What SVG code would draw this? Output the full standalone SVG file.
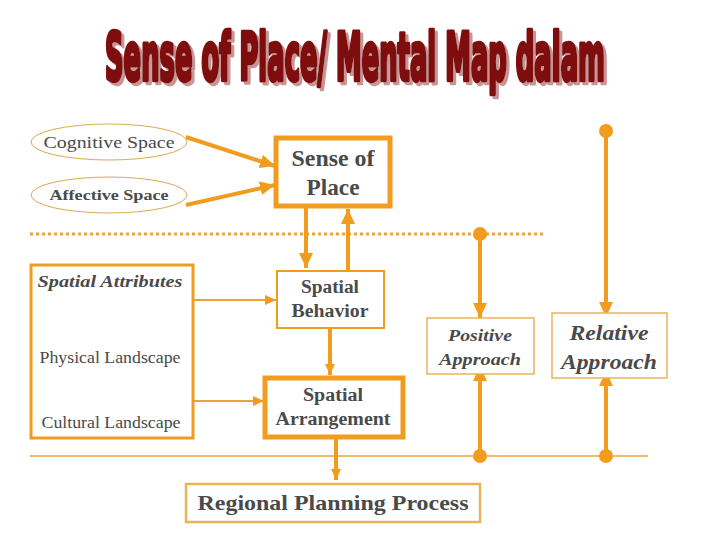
<svg xmlns="http://www.w3.org/2000/svg" width="720" height="540" viewBox="0 0 720 540">
<style>
.t{font-family:"Liberation Serif","DejaVu Serif",serif;fill:#4a4a4a;text-anchor:middle}
.b{font-weight:bold}
.i{font-style:italic}
.thick{stroke:#f29c1f;stroke-width:4;fill:none}
.thin{stroke:#eba43a;stroke-width:2;fill:none}
.box{fill:#fff;stroke:#f29c1f}
.tan{fill:#fff;stroke:#e8b458}
.dot{fill:#f29c1f}
.title{font-family:"Liberation Sans Narrow","DejaVu Sans Condensed","Liberation Sans",sans-serif;font-weight:bold;font-size:44px;text-anchor:middle;fill:#7f0a0a;stroke:#7f0a0a;stroke-width:3;stroke-linejoin:round}
</style>
<defs>
<filter id="shadow" filterUnits="userSpaceOnUse" x="80" y="10" width="560" height="100">
<feDropShadow dx="3" dy="3" stdDeviation="0.6" flood-color="#c89494" flood-opacity="1"/>
</filter>
<marker id="ah" markerUnits="userSpaceOnUse" markerWidth="16" markerHeight="16" viewBox="0 0 16 16" refX="15" refY="8" orient="auto"><path d="M0,1 L15,8 L0,15 z" fill="#f29c1f"/></marker>
<marker id="ahs" markerUnits="userSpaceOnUse" markerWidth="12" markerHeight="12" viewBox="0 0 12 12" refX="11" refY="6" orient="auto"><path d="M0,1 L11,6 L0,11 z" fill="#f29c1f"/></marker>
<marker id="ahr" markerUnits="userSpaceOnUse" markerWidth="16" markerHeight="16" viewBox="0 0 16 16" refX="1" refY="8" orient="auto"><path d="M16,1 L1,8 L16,15 z" fill="#f29c1f"/></marker>
</defs>

<g id="title" filter="url(#shadow)">
<text class="title" transform="translate(355,80) scale(1,1.5)" textLength="500" lengthAdjust="spacingAndGlyphs">Sense of Place/ Mental Map dalam</text>
</g>

<g id="connectors">
<line x1="30" y1="234" x2="543" y2="234" stroke="#eba43a" stroke-width="3" stroke-dasharray="3,3"/>
<line x1="30" y1="456" x2="648" y2="456" stroke="#eba43a" stroke-width="1.5"/>
<line class="thick" x1="186" y1="137" x2="275" y2="166" marker-end="url(#ah)"/>
<line class="thick" x1="186" y1="205" x2="275" y2="185" marker-end="url(#ah)"/>
<line class="thick" x1="306" y1="208" x2="306" y2="268" marker-end="url(#ah)"/>
<line class="thick" x1="348" y1="270" x2="348" y2="209" marker-end="url(#ah)"/>
<line class="thin" x1="193" y1="300" x2="276" y2="300" marker-end="url(#ahs)"/>
<line class="thin" x1="193" y1="401" x2="264" y2="401" marker-end="url(#ahs)"/>
<line class="thick" x1="330" y1="328" x2="330" y2="375" stroke-width="3" marker-end="url(#ahs)"/>
<line class="thick" x1="336" y1="438" x2="336" y2="480" stroke-width="3" marker-end="url(#ahs)"/>
<line class="thick" x1="102" y1="373" x2="102" y2="407" marker-start="url(#ahr)" marker-end="url(#ah)"/>
<line class="thick" x1="480" y1="234" x2="480" y2="318" marker-end="url(#ah)"/>
<line class="thick" x1="480" y1="456" x2="480" y2="366" marker-end="url(#ah)"/>
<line class="thick" x1="606" y1="131" x2="606" y2="317" marker-end="url(#ah)"/>
<line class="thick" x1="606" y1="456" x2="606" y2="371" marker-end="url(#ah)"/>
<circle class="dot" cx="480" cy="234" r="7"/>
<circle class="dot" cx="480" cy="456" r="7"/>
<circle class="dot" cx="606" cy="131" r="7"/>
<circle class="dot" cx="606" cy="456" r="7"/>
</g>

<g id="cognitive">
<ellipse cx="109" cy="142" rx="78" ry="18" fill="#fff" stroke="#dba850" stroke-width="1"/>
<text class="t" x="109" y="148" font-size="17" textLength="131" lengthAdjust="spacingAndGlyphs">Cognitive Space</text>
</g>
<g id="affective">
<ellipse cx="109" cy="195" rx="78" ry="18" fill="#fff" stroke="#dba850" stroke-width="1"/>
<text class="t" x="109" y="200" font-size="15" font-weight="600" textLength="119" lengthAdjust="spacingAndGlyphs">Affective Space</text>
</g>
<g id="sense">
<rect class="box" x="276" y="138" width="114" height="68" stroke-width="5"/>
<text class="t b" x="333" y="166" font-size="23" textLength="83" lengthAdjust="spacingAndGlyphs">Sense of</text>
<text class="t b" x="333" y="195" font-size="23" textLength="53" lengthAdjust="spacingAndGlyphs">Place</text>
</g>
<g id="attributes">
<rect class="box" x="31" y="265" width="162" height="173" stroke-width="3" fill="none"/>
<text class="t b i" x="110" y="287" font-size="17" textLength="145" lengthAdjust="spacingAndGlyphs">Spatial Attributes</text>
<text class="t" x="110" y="363" font-size="16.5" textLength="141" lengthAdjust="spacingAndGlyphs">Physical Landscape</text>
<text class="t" x="111" y="428" font-size="16.5" textLength="139" lengthAdjust="spacingAndGlyphs">Cultural Landscape</text>
</g>
<g id="behavior">
<rect class="box" x="277" y="271" width="107" height="57" stroke-width="2"/>
<text class="t b" x="330" y="293" font-size="18" textLength="58" lengthAdjust="spacingAndGlyphs">Spatial</text>
<text class="t b" x="330" y="317" font-size="18" textLength="77" lengthAdjust="spacingAndGlyphs">Behavior</text>
</g>
<g id="arrangement">
<rect class="box" x="265" y="378" width="138" height="59" stroke-width="5"/>
<text class="t b" x="333" y="401" font-size="18" textLength="60" lengthAdjust="spacingAndGlyphs">Spatial</text>
<text class="t b" x="333" y="425" font-size="18" textLength="115" lengthAdjust="spacingAndGlyphs">Arrangement</text>
</g>
<g id="regional">
<rect class="tan" x="186" y="484" width="294" height="38" stroke-width="2.5"/>
<text class="t b" x="333" y="510" font-size="22" textLength="271" lengthAdjust="spacingAndGlyphs">Regional Planning Process</text>
</g>
<g id="positive">
<rect class="tan" x="427" y="318" width="107" height="56" stroke-width="1.5" fill="none"/>
<text class="t b i" x="480" y="341" font-size="17" textLength="64" lengthAdjust="spacingAndGlyphs">Positive</text>
<text class="t b i" x="480" y="365" font-size="17" textLength="82" lengthAdjust="spacingAndGlyphs">Approach</text>
</g>
<g id="relative">
<rect class="tan" x="552" y="313" width="115" height="65" stroke-width="1.5" fill="none"/>
<text class="t b i" x="609" y="340" font-size="22" textLength="79" lengthAdjust="spacingAndGlyphs">Relative</text>
<text class="t b i" x="609" y="369" font-size="22" textLength="96" lengthAdjust="spacingAndGlyphs">Approach</text>
</g>
</svg>
